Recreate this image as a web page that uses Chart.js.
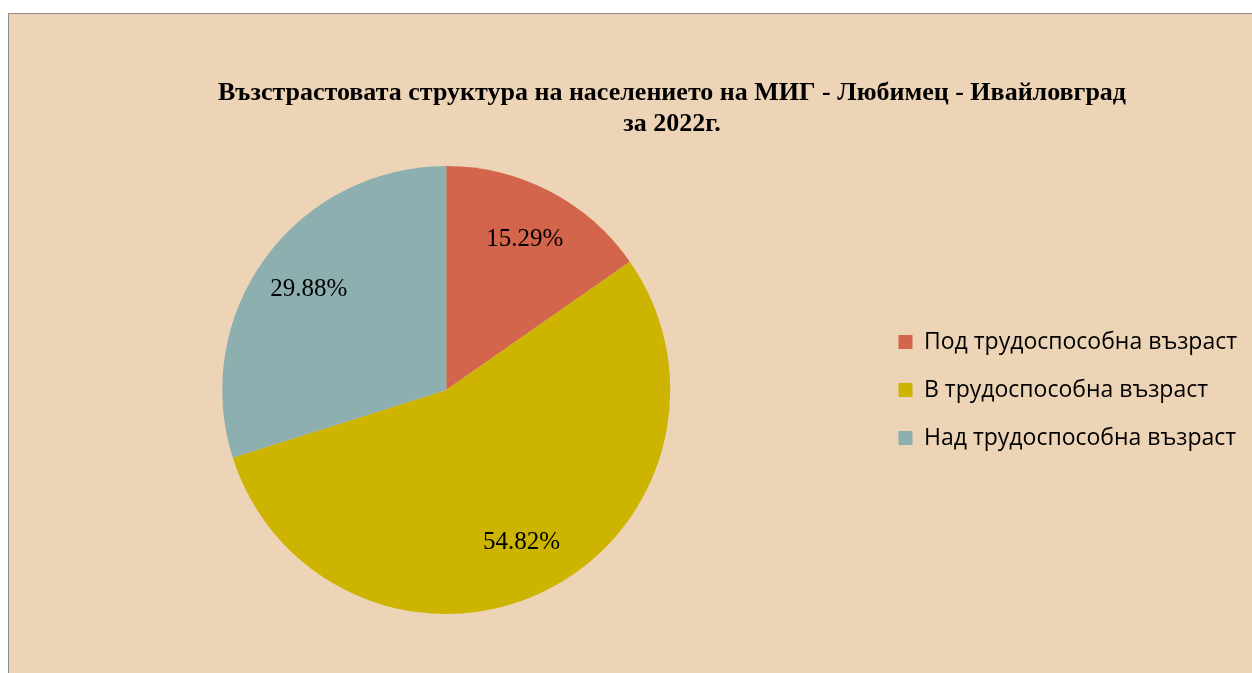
<!DOCTYPE html>
<html lang="bg">
<head>
<meta charset="UTF-8">
<title>Възрастова структура</title>
<script src="https://cdn.jsdelivr.net/npm/chart.js"></script>
<style>
    html, body { margin: 0; padding: 0; background: #ffffff; overflow: hidden; }
    #frame {
        position: absolute;
        left: 8px; top: 13px;
        width: 1244px; height: 660px;
        border-left: 1px solid #8c8c8c;
        border-top: 1px solid #8c8c8c;
        background: #edd4b6;
    }
    #title {
        position: absolute;
        left: 0; width: 1326px;
        top: 62px;
        margin: 0;
        text-align: center;
        font-family: "Liberation Serif", "Times New Roman", serif;
        font-weight: bold;
        font-size: 26px;
        line-height: 31px;
        color: #000;
    }
    #wrap { position: absolute; left: 0; top: 0; width: 1243px; height: 659px; }
</style>
</head>
<body>
<div id="frame">
    <div id="wrap"><canvas id="pie"></canvas></div>
    <h1 id="title">Възстрастовата структура на населението на МИГ - Любимец - Ивайловград<br>за 2022г.</h1>
</div>
<script>
    // data
    const categories = ['Под трудоспособна възраст', 'В трудоспособна възраст', 'Над трудоспособна възраст'];
    const shares = [15.29, 54.82, 29.88];
    const colors = ['#d2654b', '#cdb400', '#8eafb0'];

    // percent labels inside slices
    const sliceLabels = {
        id: 'sliceLabels',
        afterDatasetsDraw(chart) {
            const ctx = chart.ctx;
            const meta = chart.getDatasetMeta(0);
            ctx.save();
            ctx.font = '25px "Liberation Serif", "Times New Roman", serif';
            ctx.fillStyle = '#000';
            ctx.textAlign = 'center';
            ctx.textBaseline = 'middle';
            meta.data.forEach((arc, i) => {
                const p = arc.getProps(['x', 'y', 'startAngle', 'endAngle', 'outerRadius'], true);
                const mid = (p.startAngle + p.endAngle) / 2;
                const d = p.outerRadius * 0.76;
                ctx.fillText(shares[i].toFixed(2) + '%', p.x + Math.cos(mid) * d, p.y + Math.sin(mid) * d);
            });
            ctx.restore();
        }
    };

    new Chart(document.getElementById('pie'), {
        type: 'pie',
        data: {
            labels: categories,
            datasets: [{
                data: shares,
                backgroundColor: colors,
                borderWidth: 0
            }]
        },
        options: {
            responsive: true,
            maintainAspectRatio: false,
            animation: false,
            layout: { padding: { top: 152, bottom: 59, left: 10, right: 5 } },
            plugins: {
                title: { display: false },
                tooltip: { enabled: false },
                legend: {
                    position: 'right',
                    labels: {
                        boxWidth: 14,
                        boxHeight: 14,
                        padding: 25,
                        color: '#000',
                        font: { family: '"Open Sans", sans-serif', size: 23 }
                    }
                }
            }
        },
        plugins: [sliceLabels]
    });
</script>
</body>
</html>
